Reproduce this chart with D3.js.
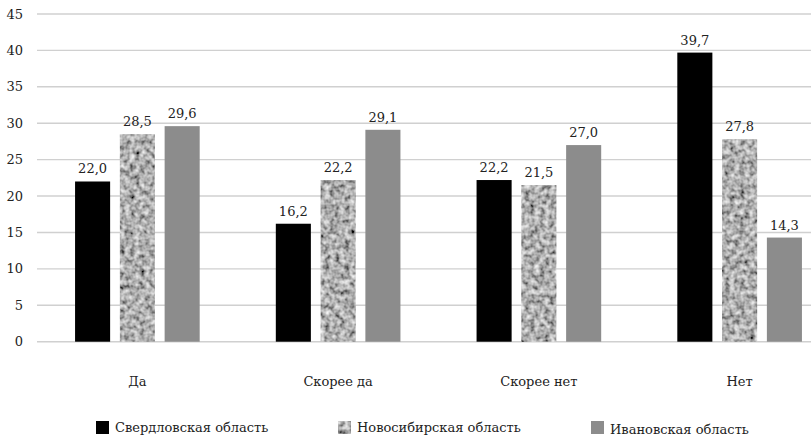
<!DOCTYPE html>
<html><head><meta charset="utf-8">
<script src="https://cdn.jsdelivr.net/npm/d3@7"></script>
<style>html,body{margin:0;padding:0;background:#fff;}svg{display:block;}</style>
</head><body>
<script>
const categories = ["Да", "Скорее да", "Скорее нет", "Нет"];
const seriesNames = ["Свердловская область", "Новосибирская область", "Ивановская область"];
const sverdlovsk = [22.0, 16.2, 22.2, 39.7];
const novosibirsk = [28.5, 22.2, 21.5, 27.8];
const ivanovo = [29.6, 29.1, 27.0, 14.3];
const yTicks = [0, 5, 10, 15, 20, 25, 30, 35, 40, 45];

const seriesValues = [sverdlovsk, novosibirsk, ivanovo];
const W = 811, H = 436;
const FONT = "'DejaVu Serif', serif";
const svg = d3.select("body").append("svg").attr("width", W).attr("height", H);
const defs = svg.append("defs");
const f = defs.append("filter").attr("id", "noise")
  .attr("x", 0).attr("y", 0).attr("width", 1).attr("height", 1)
  .attr("filterUnits", "objectBoundingBox");
f.append("feTurbulence").attr("type", "fractalNoise").attr("baseFrequency", 0.2)
  .attr("numOctaves", 2).attr("seed", 3).attr("result", "t");
f.append("feColorMatrix").attr("in", "t").attr("type", "matrix")
  .attr("values", "1.2 0 0 0 -0.17  1.2 0 0 0 -0.17  1.2 0 0 0 -0.17  0 0 0 0 1").attr("result", "g");
f.append("feComposite").attr("in", "g").attr("in2", "SourceGraphic").attr("operator", "in");

const colors = ["#000000", "#a0a0a0", "#8c8c8c"];
const filters = [null, "url(#noise)", null];

const x0 = d3.scaleBand().domain(categories).range([37, 840]).paddingInner(0).paddingOuter(0);
const x1 = d3.scaleBand().domain(d3.range(3)).range([0, x0.bandwidth()]).paddingInner(0.217).paddingOuter(0.85);
const y = d3.scaleLinear().domain([0, 45]).range([341.7, 14]);

svg.append("g").selectAll("line").data(yTicks).join("line")
  .attr("x1", 37).attr("x2", W).attr("y1", d => y(d)).attr("y2", d => y(d))
  .attr("stroke", "#d0d0d0").attr("stroke-width", 1.4);

svg.append("g").selectAll("text").data(yTicks).join("text")
  .attr("x", 23).attr("y", d => y(d) + 4.5).attr("text-anchor", "end")
  .attr("font-family", FONT).attr("font-size", 13).attr("fill", "#222")
  .text(d => d);

const fmt = v => v.toFixed(1).replace(".", ",");
seriesValues.forEach((vals, si) => {
  const g = svg.append("g");
  g.selectAll("rect").data(vals).join("rect")
    .attr("x", (d, i) => x0(categories[i]) + x1(si))
    .attr("width", x1.bandwidth())
    .attr("y", d => y(d)).attr("height", d => y(0) - y(d))
    .attr("fill", colors[si])
    .attr("filter", filters[si]);
  g.selectAll("text").data(vals).join("text")
    .attr("x", (d, i) => x0(categories[i]) + x1(si) + x1.bandwidth() / 2)
    .attr("y", d => y(d) - 8).attr("text-anchor", "middle")
    .attr("font-family", FONT).attr("font-size", 13).attr("fill", "#222")
    .text(fmt);
});

svg.append("g").selectAll("text").data(categories).join("text")
  .attr("x", d => x0(d) + x1(1) + x1.bandwidth() / 2).attr("y", 386).attr("text-anchor", "middle")
  .attr("font-family", FONT).attr("font-size", 13).attr("fill", "#222")
  .text(d => d);

const legX = [96, 338, 591];
const lg = svg.append("g");
seriesNames.forEach((n, i) => {
  lg.append("rect").attr("x", legX[i]).attr("y", 421).attr("width", 13).attr("height", 13)
    .attr("fill", colors[i]).attr("filter", filters[i]);
  lg.append("text").attr("x", legX[i] + 19).attr("y", 432 + (i === 2 ? 1.5 : 0))
    .attr("font-family", FONT).attr("font-size", 13).attr("fill", "#222").text(n);
});
</script>
</body></html>
